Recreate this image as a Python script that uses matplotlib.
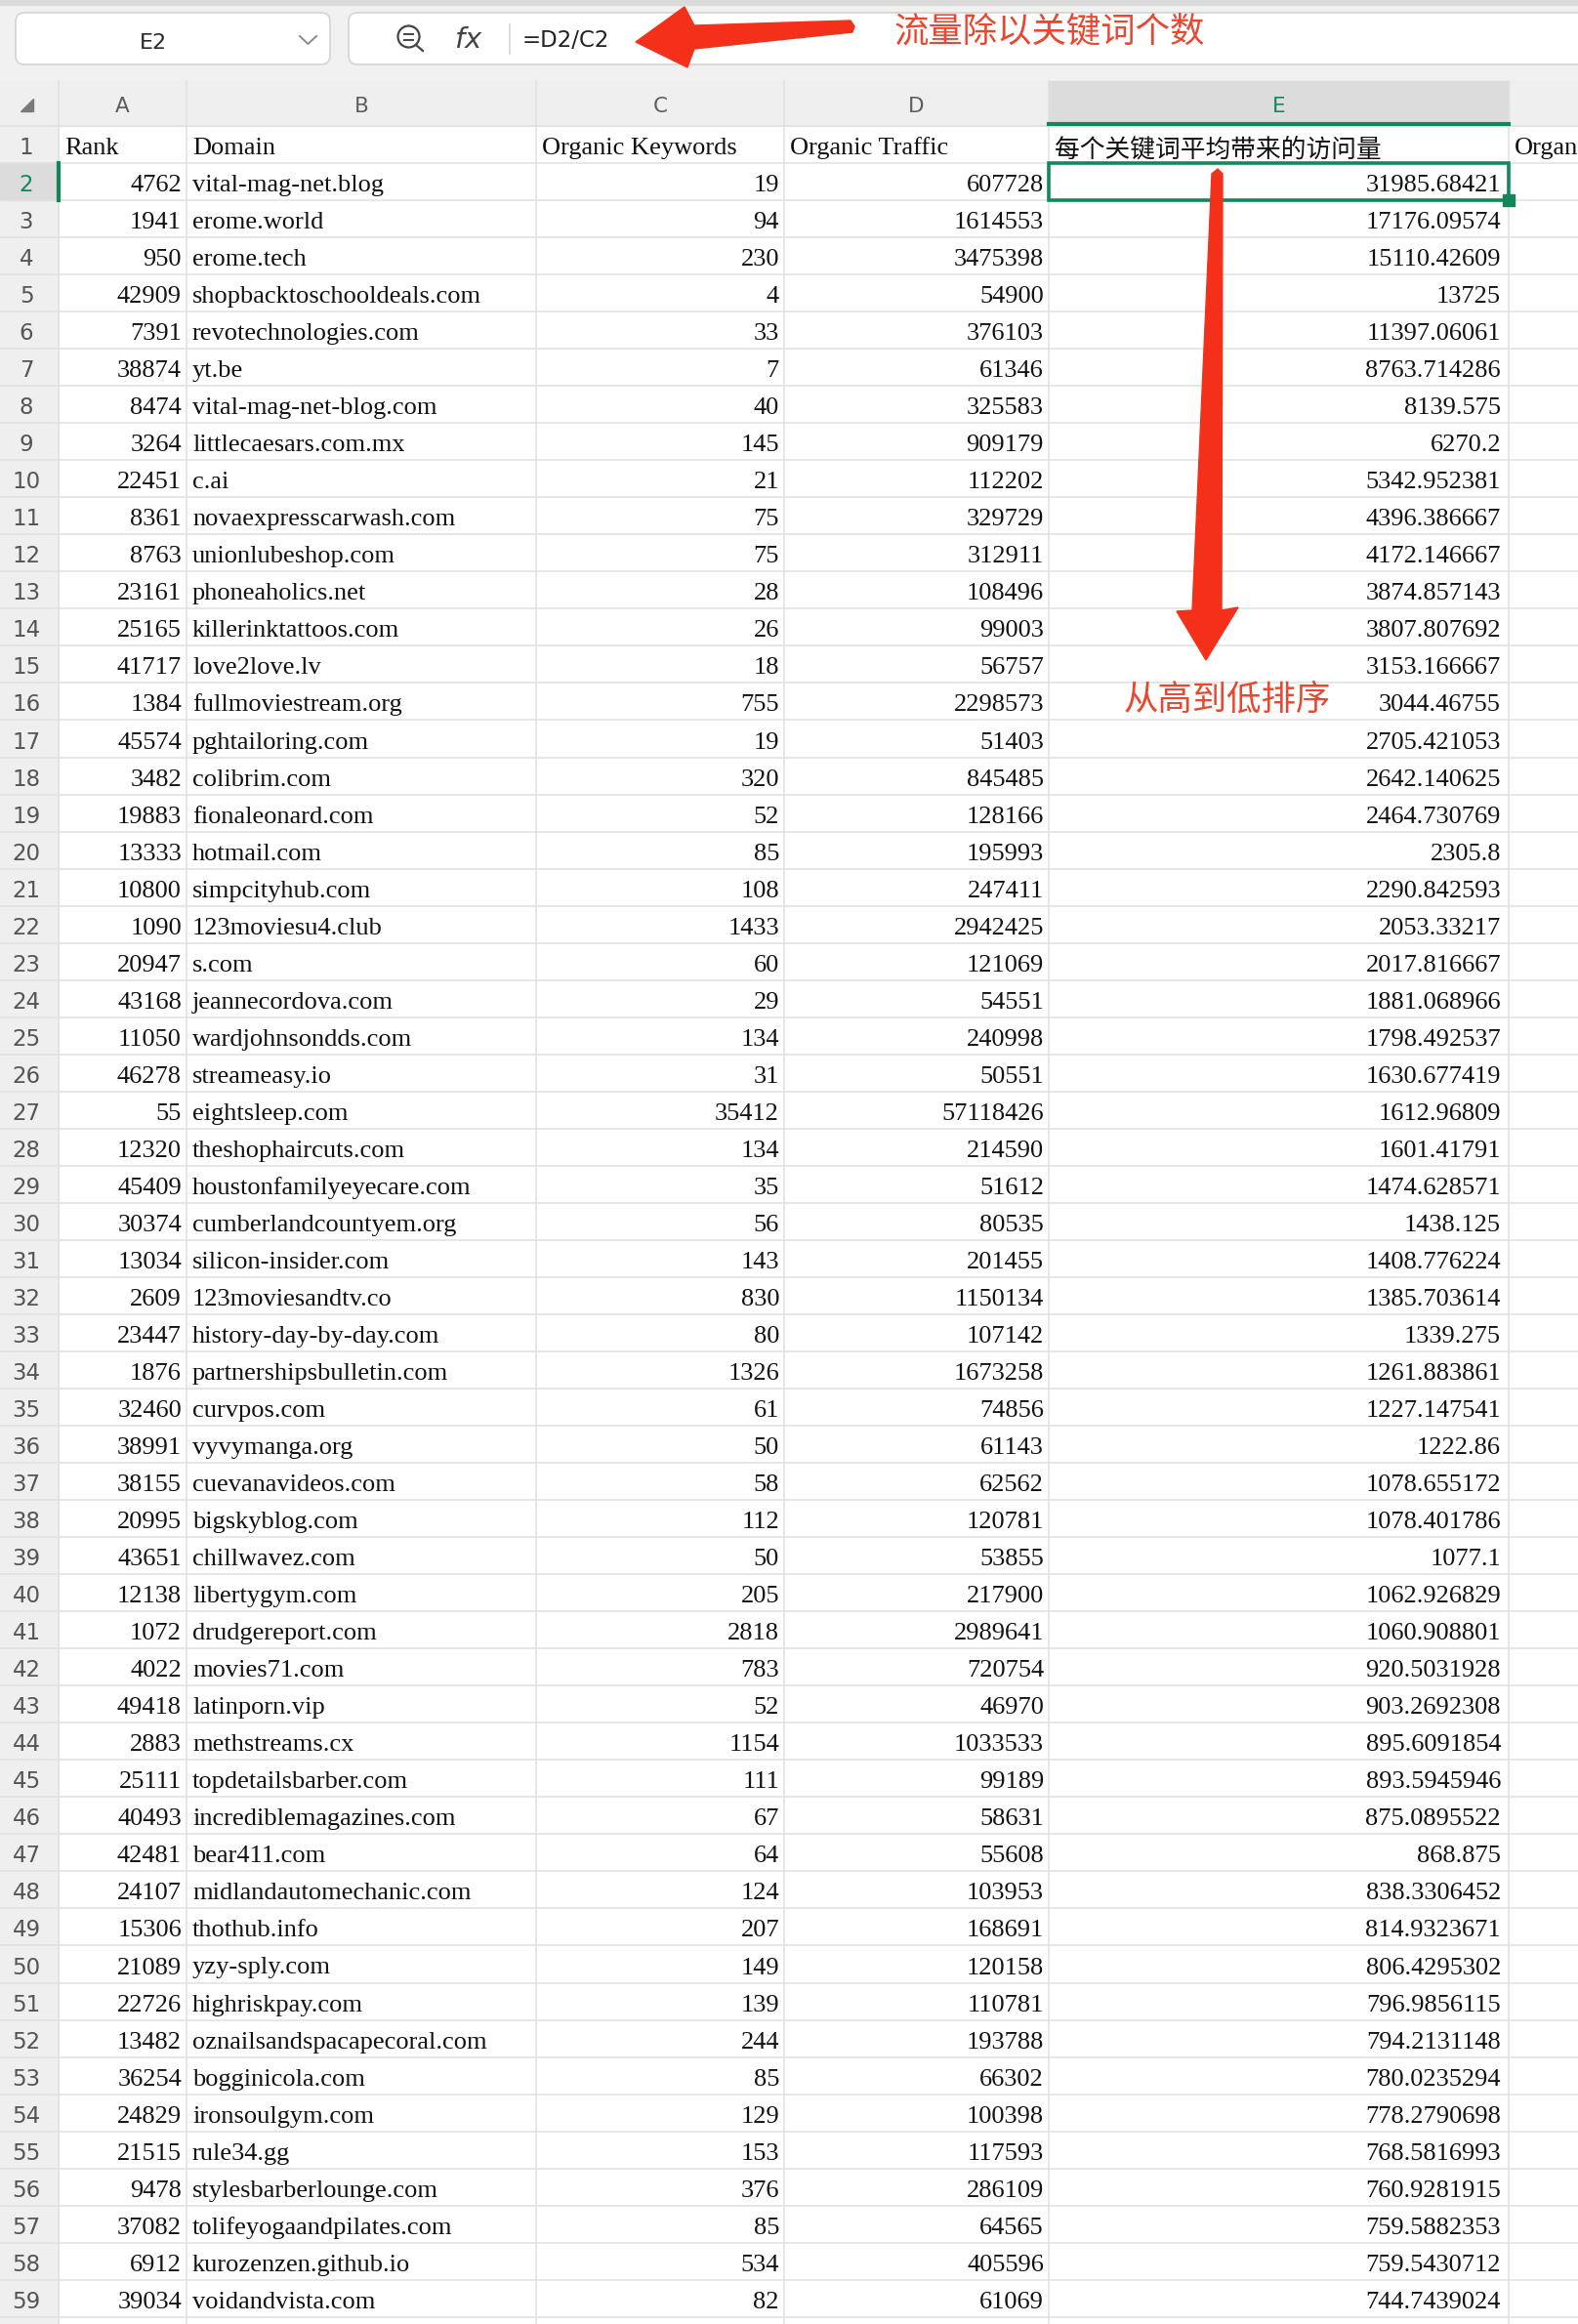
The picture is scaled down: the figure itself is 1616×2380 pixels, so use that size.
import matplotlib
matplotlib.use("Agg")
import matplotlib.pyplot as plt
from matplotlib.patches import Rectangle, FancyBboxPatch, Polygon, Circle

# spreadsheet content
col_letters = ["A", "B", "C", "D", "E"]
headers = ["Rank", "Domain", "Organic Keywords", "Organic Traffic", "每个关键词平均带来的访问量", "Organ"]

ranks = [4762, 1941, 950, 42909, 7391, 38874, 8474, 3264, 22451, 8361,
         8763, 23161, 25165, 41717, 1384, 45574, 3482, 19883, 13333, 10800,
         1090, 20947, 43168, 11050, 46278, 55, 12320, 45409, 30374, 13034,
         2609, 23447, 1876, 32460, 38991, 38155, 20995, 43651, 12138, 1072,
         4022, 49418, 2883, 25111, 40493, 42481, 24107, 15306, 21089, 22726,
         13482, 36254, 24829, 21515, 9478, 37082, 6912, 39034]

domains = ["vital-mag-net.blog", "erome.world", "erome.tech", "shopbacktoschooldeals.com",
           "revotechnologies.com", "yt.be", "vital-mag-net-blog.com", "littlecaesars.com.mx",
           "c.ai", "novaexpresscarwash.com", "unionlubeshop.com", "phoneaholics.net",
           "killerinktattoos.com", "love2love.lv", "fullmoviestream.org", "pghtailoring.com",
           "colibrim.com", "fionaleonard.com", "hotmail.com", "simpcityhub.com",
           "123moviesu4.club", "s.com", "jeannecordova.com", "wardjohnsondds.com",
           "streameasy.io", "eightsleep.com", "theshophaircuts.com", "houstonfamilyeyecare.com",
           "cumberlandcountyem.org", "silicon-insider.com", "123moviesandtv.co", "history-day-by-day.com",
           "partnershipsbulletin.com", "curvpos.com", "vyvymanga.org", "cuevanavideos.com",
           "bigskyblog.com", "chillwavez.com", "libertygym.com", "drudgereport.com",
           "movies71.com", "latinporn.vip", "methstreams.cx", "topdetailsbarber.com",
           "incrediblemagazines.com", "bear411.com", "midlandautomechanic.com", "thothub.info",
           "yzy-sply.com", "highriskpay.com", "oznailsandspacapecoral.com", "bogginicola.com",
           "ironsoulgym.com", "rule34.gg", "stylesbarberlounge.com", "tolifeyogaandpilates.com",
           "kurozenzen.github.io", "voidandvista.com"]

keywords = [19, 94, 230, 4, 33, 7, 40, 145, 21, 75,
            75, 28, 26, 18, 755, 19, 320, 52, 85, 108,
            1433, 60, 29, 134, 31, 35412, 134, 35, 56, 143,
            830, 80, 1326, 61, 50, 58, 112, 50, 205, 2818,
            783, 52, 1154, 111, 67, 64, 124, 207, 149, 139,
            244, 85, 129, 153, 376, 85, 534, 82]

traffic = [607728, 1614553, 3475398, 54900, 376103, 61346, 325583, 909179, 112202, 329729,
           312911, 108496, 99003, 56757, 2298573, 51403, 845485, 128166, 195993, 247411,
           2942425, 121069, 54551, 240998, 50551, 57118426, 214590, 51612, 80535, 201455,
           1150134, 107142, 1673258, 74856, 61143, 62562, 120781, 53855, 217900, 2989641,
           720754, 46970, 1033533, 99189, 58631, 55608, 103953, 168691, 120158, 110781,
           193788, 66302, 100398, 117593, 286109, 64565, 405596, 61069]

avg_visits = [31985.68421, 17176.09574, 15110.42609, 13725, 11397.06061, 8763.714286,
              8139.575, 6270.2, 5342.952381, 4396.386667, 4172.146667, 3874.857143,
              3807.807692, 3153.166667, 3044.46755, 2705.421053, 2642.140625, 2464.730769,
              2305.8, 2290.842593, 2053.33217, 2017.816667, 1881.068966, 1798.492537,
              1630.677419, 1612.96809, 1601.41791, 1474.628571, 1438.125, 1408.776224,
              1385.703614, 1339.275, 1261.883861, 1227.147541, 1222.86, 1078.655172,
              1078.401786, 1077.1, 1062.926829, 1060.908801, 920.5031928, 903.2692308,
              895.6091854, 893.5945946, 875.0895522, 868.875, 838.3306452, 814.9323671,
              806.4295302, 796.9856115, 794.2131148, 780.0235294, 778.2790698, 768.5816993,
              760.9281915, 759.5882353, 759.5430712, 744.7439024]

formula = "=D2/C2"
cell_name = "E2"
note_top = "流量除以关键词个数"
note_side = "从高到低排序"

# layout (pixels)
W, H = 1616, 2380
col_edges = [60, 191, 549, 803, 1074, 1545, 1700]
head_top, head_bot = 83, 129
row_h = 38.03
green = "#14875A"
grid = "#E0E0E0"
red = "#F4301A"
red_txt = "#E9472F"
serif = ["Liberation Serif", "DejaVu Serif"]
cjk = ["Noto Sans CJK SC", "DejaVu Sans"]
sans = ["DejaVu Sans"]

fig = plt.figure(figsize=(W / 100, H / 100), dpi=100)
ax = fig.add_axes([0, 0, 1, 1])
ax.set_xlim(0, W)
ax.set_ylim(H, 0)
ax.axis("off")
fig.patch.set_facecolor("white")

# toolbar area
ax.add_patch(Rectangle((0, 0), W, head_top, color="#F1F1F1", zorder=0))
ax.add_patch(Rectangle((0, 0), W, 5, color="#DADADA", zorder=0))
ax.add_patch(FancyBboxPatch((16, 13), 322, 53, boxstyle="round,pad=0,rounding_size=9",
                            fc="white", ec="#D4D4D4", lw=1.2, zorder=1))
ax.add_patch(FancyBboxPatch((357, 13), 1400, 53, boxstyle="round,pad=0,rounding_size=9",
                            fc="white", ec="#D4D4D4", lw=1.2, zorder=1))
ax.text(157, 50, cell_name, ha="center", va="baseline", fontsize=16, color="#2A2A2A",
        family=sans, zorder=2)
ax.plot([307, 315.5, 324], [37, 45, 37], color="#8A8A8A", lw=1.4, zorder=2)
ax.add_patch(Circle((418.5, 37.5), 11, fill=False, ec="#444444", lw=1.6, zorder=2))
ax.plot([426, 433], [46, 52], color="#444444", lw=1.6, zorder=2)
ax.plot([414, 423], [35, 35], color="#444444", lw=1.4, zorder=2)
ax.plot([414, 423], [41, 41], color="#444444", lw=1.4, zorder=2)
ax.text(480, 41, r"$fx$", ha="center", va="center", fontsize=21, color="#444444", zorder=2)
ax.plot([522, 522], [25, 55], color="#DDDDDD", lw=1.4, zorder=2)
ax.text(535, 48, formula, ha="left", va="baseline", fontsize=16.5, color="#222222",
        family=sans, zorder=2)

# column header row and row header column
ax.add_patch(Rectangle((0, head_top), W, head_bot - head_top, color="#EFEFEF", zorder=0))
n_rows = len(ranks) + 2
ax.add_patch(Rectangle((0, head_bot), col_edges[0], n_rows * row_h, color="#EFEFEF", zorder=0))
ax.add_patch(Rectangle((col_edges[4], head_top), col_edges[5] - col_edges[4], head_bot - head_top,
                       color="#DCDCDC", zorder=0.5))
ax.plot([col_edges[4], col_edges[5]], [head_bot - 2, head_bot - 2], color=green, lw=3, zorder=3)
ax.add_patch(Polygon([(21, 114), (34, 114), (34, 101)], closed=True, color="#7A7A7A", zorder=2))
for i, letter in enumerate(col_letters):
    cx = (col_edges[i] + col_edges[i + 1]) / 2
    ax.text(cx, 115, letter, ha="center", va="baseline", fontsize=15.5, family=sans,
            color=green if letter == "E" else "#5E5E5E", zorder=2)
for x in col_edges[:-1]:
    ax.plot([x, x], [head_top, H], color=grid, lw=1.1, zorder=1)

# row 2 highlight
r2_top = head_bot + row_h
ax.add_patch(Rectangle((0, r2_top), col_edges[0], row_h, color="#DCDCDC", zorder=0.5))
ax.plot([60, 60], [r2_top, r2_top + row_h], color=green, lw=3, zorder=3)

# horizontal grid lines
for r in range(n_rows + 1):
    y = head_bot + r * row_h
    ax.plot([0, W], [y, y], color=grid, lw=1.1, zorder=1)

# row numbers
for r in range(1, n_rows):
    base = head_bot + r * row_h - 9
    ax.text(27, base, str(r), ha="center", va="baseline", fontsize=16.5, family=sans,
            color=green if r == 2 else "#555555", zorder=2)

# header cells
for i, h in enumerate(headers):
    fam = cjk if i == 4 else serif
    base = head_bot + row_h - (7 if i == 4 else 9)
    ax.text(col_edges[i] + 6, base, h, ha="left", va="baseline", fontsize=19 if i != 4 else 18.5,
            family=fam, color="#111111", zorder=2)

# data cells
for k in range(len(ranks)):
    base = head_bot + (k + 2) * row_h - 9
    ax.text(col_edges[1] - 5, base, str(ranks[k]), ha="right", va="baseline", fontsize=19,
            family=serif, color="#111111", zorder=2)
    ax.text(col_edges[1] + 6, base, domains[k], ha="left", va="baseline", fontsize=19,
            family=serif, color="#111111", zorder=2)
    ax.text(col_edges[3] - 5, base, str(keywords[k]), ha="right", va="baseline", fontsize=19,
            family=serif, color="#111111", zorder=2)
    ax.text(col_edges[4] - 5, base, str(traffic[k]), ha="right", va="baseline", fontsize=19,
            family=serif, color="#111111", zorder=2)
    ax.text(col_edges[5] - 8, base, "{:.10g}".format(avg_visits[k]), ha="right", va="baseline",
            fontsize=19, family=serif, color="#111111", zorder=2)

# selected cell E2
ax.add_patch(Rectangle((col_edges[4], r2_top), col_edges[5] - col_edges[4], row_h,
                       fill=False, ec=green, lw=2.6, zorder=4))
ax.add_patch(Rectangle((col_edges[5] - 6, r2_top + row_h - 6), 12, 12, color=green, zorder=5))

# red annotations
ax.add_patch(Polygon([(651, 43), (701, 7), (711, 26), (871, 21), (875, 27), (873, 33),
                      (711, 50), (704, 69)], closed=True, color=red, zorder=6))
ax.text(1075, 32, note_top, ha="center", va="center", fontsize=25.5, family=cjk,
        color=red_txt, zorder=6)
ax.add_patch(Polygon([(1241, 178), (1247, 173), (1252, 178), (1251, 625), (1268, 622),
                      (1235, 676), (1205, 626), (1221, 625)], closed=True, color=red, zorder=6))
ax.text(1257, 717, note_side, ha="center", va="center", fontsize=25.5, family=cjk,
        color=red_txt, zorder=6)

fig.savefig("out.png", dpi=100)
